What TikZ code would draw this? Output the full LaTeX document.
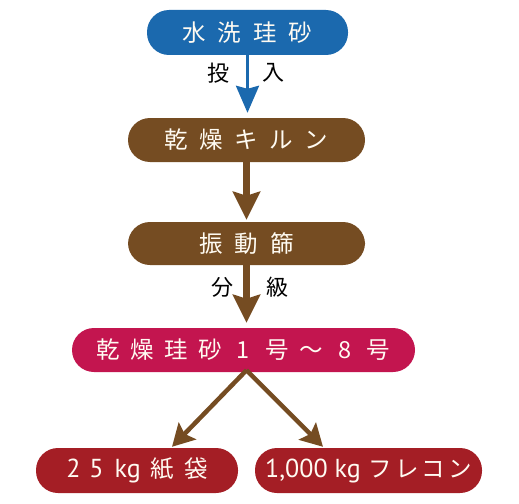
\documentclass[tikz,border=0pt]{standalone}
\usepackage{fontspec}
\newfontfamily\jp{Noto Sans CJK JP}
\newfontfamily\lat{PT Sans}
\usetikzlibrary{arrows.meta}
\definecolor{cblue}{HTML}{1B69AE}
\definecolor{cbrown}{HTML}{754C22}
\definecolor{cpink}{HTML}{C3154F}
\definecolor{cred}{HTML}{A41E25}
\definecolor{ctext}{HTML}{FFFBF2}
\newcommand\chr[2]{\makebox[#1]{#2}}
\begin{document}
\begin{tikzpicture}[x=1pt,y=-1pt,
  pill/.style={rectangle,rounded corners=22pt,minimum height=45pt,inner sep=0pt,text=ctext,font=\jp\fontsize{23.5}{23.5}\selectfont},
  lab/.style={font=\jp\fontsize{22}{22}\selectfont,text=black,inner sep=0pt},
  bigarrow/.style={cbrown,line width=7pt,-{Stealth[length=28pt,width=27pt,inset=4pt]}},
  diagarrow/.style={cbrown,line width=4.5pt,-{Stealth[length=22pt,width=24pt,inset=4pt]}}]
\useasboundingbox (0,0) rectangle (519,503);
\node[pill,fill=cblue,minimum width=201pt] (top) at (247.5,32.5) {\chr{35.5pt}{水}\chr{35.5pt}{洗}\chr{35.5pt}{珪}\chr{35.5pt}{砂}};
\node[pill,fill=cbrown,minimum width=237pt,minimum height=44pt] (kiln) at (246.5,140) {\chr{35pt}{乾}\chr{35pt}{燥}\chr{35pt}{キ}\chr{35pt}{ル}\chr{35pt}{ン}};
\node[pill,fill=cbrown,minimum width=237pt,minimum height=43pt] (sieve) at (246.5,243.5) {\chr{35.5pt}{振}\chr{35.5pt}{動}\chr{35.5pt}{篩}};
\node[pill,fill=cpink,minimum width=343pt,minimum height=44pt] (pink) at (243.5,350) {\chr{33.7pt}{乾}\chr{33.7pt}{燥}\chr{33.7pt}{珪}\chr{33.7pt}{砂}\chr{33.7pt}{1}\chr{33.7pt}{号}\chr{33.7pt}{～}\chr{33.7pt}{8}\chr{33.7pt}{号}};
\node[pill,fill=cred,minimum width=202pt] (bl) at (137,470.5) {{\lat\fontsize{26}{26}\selectfont 2}\hspace{9pt}{\lat\fontsize{26}{26}\selectfont 5}\hspace{11pt}{\lat\fontsize{26}{26}\selectfont kg}\hspace{10pt}紙\hspace{10pt}袋};
\node[pill,fill=cred,minimum width=227pt] (br) at (368.5,470.5) {{\lat\fontsize{26}{26}\selectfont 1,000 kg}\hspace{8pt}フ\hspace{3pt}レ\hspace{3pt}コ\hspace{3pt}ン};
\node[lab] (l1) at (218,73) {投};
\node[lab] (l2) at (273,73) {入};
\node[lab] (l3) at (222,287) {分};
\node[lab] (l4) at (277,287) {級};
\draw[cblue,line width=3pt,-{Stealth[length=27pt,width=23pt,inset=3pt]},shorten >=5pt] (top.south) -- (top.south |- kiln.north);
\draw[bigarrow,shorten >=2pt] (kiln.south) -- (sieve.north);
\draw[bigarrow,shorten >=5pt] (sieve.south) -- (sieve.south |- pink.north);
\draw[diagarrow] ([yshift=2pt]sieve.south |- pink.south) -- ([xshift=35pt,yshift=1pt]bl.north);
\draw[diagarrow] ([yshift=2pt]sieve.south |- pink.south) -- ([xshift=-45.5pt,yshift=1pt]br.north);
\end{tikzpicture}
\end{document}
